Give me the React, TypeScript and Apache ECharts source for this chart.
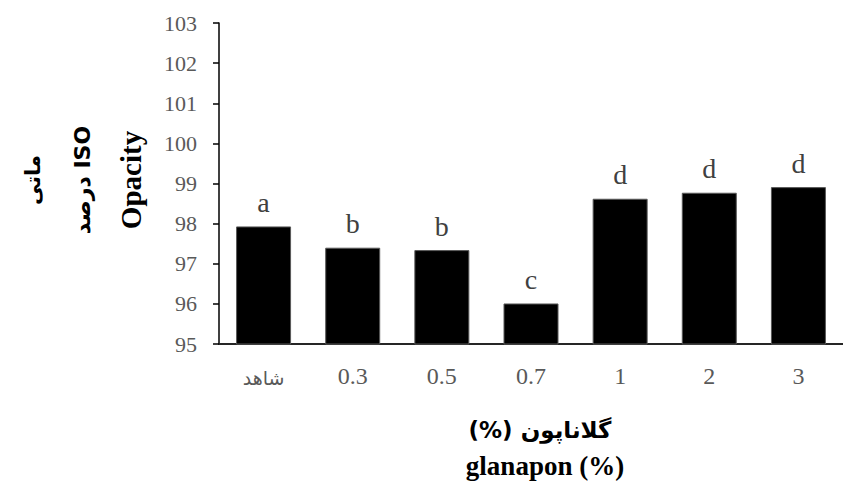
import React, { useEffect, useRef } from "react";
import * as echarts from "echarts";

const categories = ["شاهد", "0.3", "0.5", "0.7", "1", "2", "3"];
const opacityValues = [97.93, 97.4, 97.34, 96.01, 98.62, 98.77, 98.91];
const groupLetters = ["a", "b", "b", "c", "d", "d", "d"];
const yTicks = { min: 95, max: 103, interval: 1 };
const yTitleLines = ["ماتی", "درصد ISO", "Opacity"];
const xTitleLines = ["(%) گلاناپون", "glanapon (%)"];

const SERIF = "Liberation Serif";
const SANS = "DejaVu Sans";

export default function App() {
  const ref = useRef<HTMLDivElement>(null);
  useEffect(() => {
    if (!ref.current) return;
    const chart = echarts.init(ref.current, null, { renderer: "svg" });
    const txt = (text: string, x: number, y: number, size: number, family: string, rotate: boolean) => ({
      type: "text",
      x,
      y,
      rotation: rotate ? Math.PI / 2 : 0,
      style: {
        text,
        fontSize: size,
        fontWeight: "bold",
        fontFamily: family,
        fill: "#000000",
        align: "center",
        verticalAlign: "middle",
      },
    });
    chart.setOption({
      animation: false,
      backgroundColor: "#ffffff",
      grid: { left: 219, right: -7, top: 23, bottom: 141, containLabel: false },
      xAxis: {
        type: "category",
        data: categories,
        axisLine: { show: true, lineStyle: { color: "#262626", width: 2 } },
        axisTick: { show: false },
        axisLabel: {
          interval: 0,
          hideOverlap: false,
          margin: 20,
          color: "#595959",
          fontSize: 24,
          fontFamily: SERIF,
          formatter: (v: string) => (/[\u0600-\u06FF]/.test(v) ? `{fa|${v}}` : v),
          rich: {
            fa: { fontFamily: SANS, fontSize: 19, color: "#595959", padding: [4, 0, 0, 0] },
          },
        },
      },
      yAxis: {
        type: "value",
        min: yTicks.min,
        max: yTicks.max,
        interval: yTicks.interval,
        splitLine: { show: false },
        axisLine: { show: true, lineStyle: { color: "#000000", width: 1.5 } },
        axisTick: { show: true, inside: false, length: 6, lineStyle: { color: "#000000", width: 1.5 } },
        axisLabel: { color: "#595959", fontSize: 22, fontFamily: SERIF, margin: 22 },
      },
      series: [
        {
          type: "bar",
          data: opacityValues,
          barWidth: 55,
          itemStyle: { color: "#000000", borderColor: "#595959", borderWidth: 1 },
          label: {
            show: true,
            position: "top",
            distance: 10,
            formatter: (p: any) => groupLetters[p.dataIndex],
            color: "#404040",
            fontSize: 28,
            fontFamily: SERIF,
          },
        },
      ],
      graphic: [
        txt(yTitleLines[0], 33, 180, 21, SANS, true),
        txt(yTitleLines[1], 82, 180, 22, SANS, true),
        txt(yTitleLines[2], 131, 180, 29, SERIF, true),
        txt(xTitleLines[0], 540, 430, 23, SANS, false),
        txt(xTitleLines[1], 545, 466, 27, SERIF, false),
      ],
    });
    return () => chart.dispose();
  }, []);
  return <div ref={ref} style={{ width: 843, height: 485, position: "absolute", left: 0, top: 0 }} />;
}
